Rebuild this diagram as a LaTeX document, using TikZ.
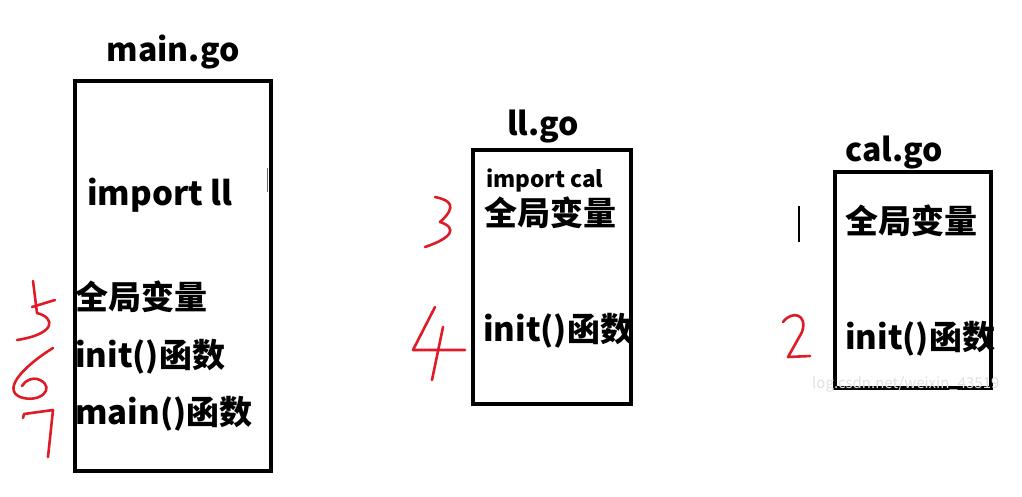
\documentclass[tikz,border=0pt]{standalone}
\usepackage{fontspec}
\setmainfont{Noto Sans CJK SC}
\usetikzlibrary{positioning, calc}
\definecolor{penred}{RGB}{222,28,40}

\begin{document}
\begin{tikzpicture}[
                x=1pt, y=-1pt,
                file/.style={draw=black, line width=4pt, rectangle, inner sep=0pt, anchor=north west},
                title/.style={font=\fontsize{32}{32}\selectfont\bfseries, inner sep=0pt},
                item/.style={font=\fontsize{33}{33}\selectfont\bfseries, inner sep=0pt, anchor=base west},
                small/.style={font=\fontsize{22.5}{22.5}\selectfont\bfseries, inner sep=0pt, anchor=base west},
                hand/.style={penred, line width=2.6pt, line cap=round, line join=round},
            ]
                \useasboundingbox (0,0) rectangle (1022,496);

                % Draw the three file boxes
                \node[file, minimum width=196pt, minimum height=390pt] (main) at (73,79) {};
                \node[file, minimum width=158pt, minimum height=254pt] (ll) at (471,148) {};
                \node[file, minimum width=156pt, minimum height=216pt] (cal) at (833,170) {};

                % File names above the boxes
                \node[title] (main-t) at (173,52) {main.go};
                \node[title] (ll-t) at (543,127) {ll.go};
                \node[title] (cal-t) at (894,153) {cal.go};

                % Contents of main.go
                \node[item] (main-imp) at (87,205) {import ll};
                \foreach \name / \y / \txt in {var/309/全局变量, init/367/init()函数, fn/424/main()函数}
                    \node[item] (main-\name) at (75,\y) {\txt};

                % Contents of ll.go
                \node[small] (ll-imp) at (486,187) {import cal};
                \node[item] (ll-var) at (484,225) {全局变量};
                \node[item] (ll-init) at (483,341) {init()函数};

                % Contents of cal.go
                \node[item] (cal-var) at (845,233) {全局变量};
                \node[item] (cal-init) at (845,349) {init()函数};

                % Hand written order of execution
                \coordinate (one-a) at (799,206);
                \coordinate (one-b) at (799,242);
                \draw[black, line width=2.2pt] (one-a) -- (one-b);
                \draw[hand] (783,322) .. controls (792,310) and (808,314) .. (802,332)
                    -- (788,357) -- (810,356);
                \draw[hand] (435,197) .. controls (450,200) and (458,206) .. (440,222)
                    .. controls (458,228) and (452,238) .. (425,247);
                \draw[hand] (435,307) -- (413,350) -- (465,350);
                \draw[hand] (443,327) -- (432,380);
                \draw[hand] (33,281) -- (37,313);
                \draw[hand] (32,307) -- (55,300);
                \draw[hand] (37,313) .. controls (56,318) and (56,334) .. (17,340);
                \draw[hand] (53,348) .. controls (30,362) and (0,388) .. (20,397)
                    .. controls (40,404) and (56,388) .. (40,380)
                    .. controls (32,376) and (24,382) .. (22,386);
                \draw[hand] (23,418) -- (24,414) -- (53,410) -- (48,457);

                % Small marks and watermark
                \coordinate (mark-a) at (267,168);
                \coordinate (mark-b) at (267,192);
                \draw[black!60, line width=0.8pt] (mark-a) -- (mark-b);
                \node[font=\fontsize{15}{15}\selectfont, text=black!12, inner sep=0pt, anchor=base west] (wm) at (812,388) {log.csdn.net/weixin\_43519};
            \end{tikzpicture}
\end{document}
